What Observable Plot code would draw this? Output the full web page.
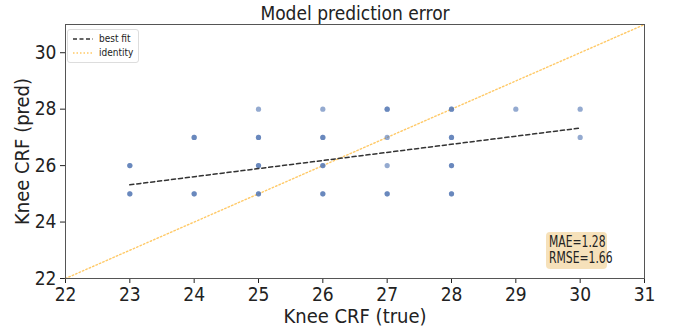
<!DOCTYPE html>
<html><head><meta charset="utf-8">
<script src="https://cdn.jsdelivr.net/npm/d3@7"></script>
<script src="https://cdn.jsdelivr.net/npm/@observablehq/plot@0.6"></script>
<style>
body{margin:0;background:#fff;font-family:"DejaVu Sans Condensed","DejaVu Sans",sans-serif;}
#wrap{position:relative;width:673px;height:326px;overflow:hidden;}
#legend{position:absolute;left:67px;top:29px;border:1px solid #ddd;border-radius:3px;background:rgba(255,255,255,0.85);font-size:10px;color:#222;padding:2px 5px 2px 4px;line-height:14px;}
#legend svg{vertical-align:middle;margin-right:5px;}
#stats{position:absolute;left:546px;top:232px;width:61px;height:37px;background:rgba(245,222,179,0.9);border-radius:4px;font-size:12px;color:#222;padding:2px 0 0 3px;box-sizing:border-box;line-height:16px;}
#stats span{display:inline-block;transform:scaleY(1.25);transform-origin:left center;}
</style></head>
<body><div id="wrap"></div>
<script>
const titleText = "Model prediction error";
const xLabel = "Knee CRF (true)";
const yLabel = "Knee CRF (pred)";
const xTicks = [22,23,24,25,26,27,28,29,30,31];
const yTicks = [22,24,26,28,30];
const ptTrue  = [23,23,24,24,25,25,25,25,26,26,26,26,27,27,27,27,28,28,28,28,29,30,30];
const ptPred  = [26,25,27,25,28,27,26,25,28,27,26,25,28,27,26,25,28,27,26,25,28,28,27];
const ptCount = [2,2,2,2,1,2,2,2,1,2,2,2,2,1,1,2,2,2,2,2,1,1,1];
const fitX = [23,30];
const fitY = [25.32,27.33];
const idX = [22,31];
const idY = [22,31];
const maeText = "MAE=1.28";
const rmseText = "RMSE=1.66";
const legendLabels = ["best fit","identity"];

const pts = [];
ptTrue.forEach((t,i)=>{for(let k=0;k<ptCount[i];k++) pts.push({t, p: ptPred[i]});});
const fit = fitX.map((x,i)=>({x, y: fitY[i]}));
const ident = idX.map((x,i)=>({x, y: idY[i]}));

const chart = Plot.plot({
  width: 673, height: 326,
  marginLeft: 65, marginRight: 29, marginTop: 24, marginBottom: 48,
  style: {fontFamily: "DejaVu Sans Condensed, DejaVu Sans", fontSize: "19px", color: "#222", background: "#fff"},
  x: {domain: [22,31], ticks: xTicks, tickSize: 5, tickFormat: d=>String(d), label: xLabel, labelAnchor: "center", labelOffset: 44, labelArrow: "none"},
  y: {domain: [22,31], ticks: yTicks, tickSize: 5, tickFormat: d=>String(d), label: yLabel, labelAnchor: "center", labelOffset: 51, labelArrow: "none"},
  marks: [
    Plot.line(ident, {x:"x", y:"y", stroke:"#ffb733", strokeOpacity:0.75, strokeWidth:1.4, strokeDasharray:"1.5,2.2"}),
    Plot.dot(pts, {x:"t", y:"p", r:2.6, fill:"#4c72b0", fillOpacity:0.6, stroke:"none"}),
    Plot.line(fit, {x:"x", y:"y", stroke:"#333", strokeWidth:1.6, strokeDasharray:"4,3"}),
    Plot.frame({stroke:"#555"}),
    Plot.text([titleText], {frameAnchor:"top", lineAnchor:"middle", dy:-11, fontSize:19, fill:"#222"})
  ]
});
const wrap = document.getElementById("wrap");
wrap.appendChild(chart);
chart.querySelectorAll("[aria-label='x-axis label'] text, [aria-label='y-axis label'] text").forEach(t=>t.style.fontSize="20px");

const leg = document.createElement("div");
leg.id = "legend";
leg.innerHTML =
  `<div><svg width="22" height="6"><line x1="1" y1="3" x2="21" y2="3" stroke="#333" stroke-width="1.3" stroke-dasharray="4,2.5"/></svg>${legendLabels[0]}</div>` +
  `<div><svg width="22" height="6"><line x1="1" y1="3" x2="21" y2="3" stroke="#ffb733" stroke-opacity="0.75" stroke-width="1.3" stroke-dasharray="1.5,2"/></svg>${legendLabels[1]}</div>`;
wrap.appendChild(leg);
const st = document.createElement("div");
st.id = "stats";
st.innerHTML = `<span>${maeText}</span><br><span>${rmseText}</span>`;
wrap.appendChild(st);
</script></body></html>
